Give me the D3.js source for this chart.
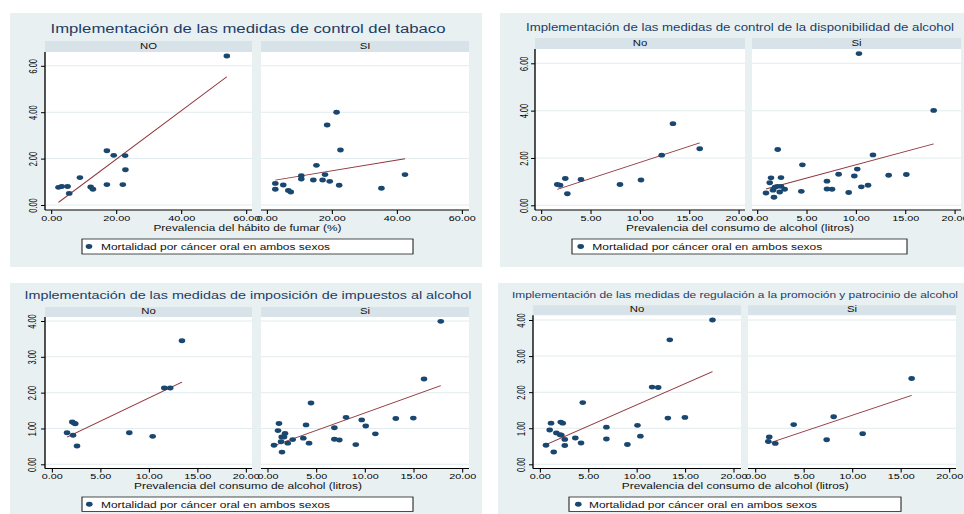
<!DOCTYPE html>
<html lang="es">
<head>
<meta charset="utf-8">
<title>Mortalidad por cáncer oral y medidas de control</title>
<script src="https://d3js.org/d3.v7.min.js"></script>
<style>
  body { margin: 0; background: #fff; }
  text { font-family: "Liberation Sans", Arial, Helvetica, sans-serif; }
</style>
</head>
<body>
<div id="chart"></div>
<script>

// ---------------------------//
//       DATA                 //
// ---------------------------//

const titles = [
  "Implementación de las medidas de control del tabaco",
  "Implementación de las medidas de control de la disponibilidad de alcohol",
  "Implementación de las medidas de imposición de impuestos al alcohol",
  "Implementación de las medidas de regulación a la promoción y patrocinio de alcohol"
];
const facetNames = [["NO", "SI"], ["No", "Si"], ["No", "Si"], ["No", "Si"]];
const xTitles = [
  "Prevalencia del hábito de fumar (%)",
  "Prevalencia del consumo de alcohol (litros)",
  "Prevalencia del consumo de alcohol (litros)",
  "Prevalencia del consumo de alcohol (litros)"
];
const legendLabel = "Mortalidad por cáncer oral en ambos sexos";

const xTicksTabaco = [0, 20, 40, 60];
const xTicksAlcohol = [0, 5, 10, 15, 20];
const yTicksSix = [0, 2, 4, 6];
const yTicksFour = [0, 1, 2, 3, 4];

// [prevalencia, mortalidad]
const tabacoNo = [[2.3,0.76],[3.3,0.80],[5.1,0.80],[5.6,0.50],[8.9,1.18],[12.2,0.78],[12.9,0.68],
  [17.2,2.34],[17.2,0.88],[19.3,2.14],[22.1,0.88],[22.8,2.13],[22.9,1.52],[54.1,6.42]];
const tabacoSi = [[2.65,0.93],[2.65,0.68],[5.1,0.86],[6.65,0.63],[7.4,0.56],[10.65,1.26],[10.65,1.12],
  [14.35,1.08],[15.3,1.71],[17.2,1.08],[17.95,1.31],[18.6,3.45],[19.4,1.02],[21.5,4.0],[22.3,0.85],
  [22.7,2.37],[35.3,0.72],[42.55,1.31]];

const dispNo = [[1.65,0.88],[1.93,0.85],[2.46,1.13],[2.67,0.49],[4.05,1.09],[8.0,0.88],[10.13,1.07],
  [12.23,2.12],[13.37,3.45],[16.08,2.39]];
const dispSi = [[10.33,6.41],[17.9,4.01],[2.1,2.36],[11.75,2.13],[4.6,1.71],[10.16,1.53],[8.27,1.31],
  [9.86,1.24],[13.34,1.27],[15.13,1.30],[7.09,1.02],[7.09,0.69],[7.6,0.68],[9.29,0.54],[10.57,0.78],
  [11.25,0.85],[4.49,0.59],[0.91,0.52],[1.29,0.95],[1.42,1.16],[1.62,0.64],[1.72,0.34],[1.82,0.76],
  [2.06,0.80],[2.3,0.56],[2.43,0.80],[2.43,1.17],[2.8,0.68]];

const impNo = [[1.58,0.88],[2.12,1.18],[2.3,1.15],[2.43,1.13],[2.2,0.81],[2.61,0.51],[8.0,0.88],
  [10.41,0.78],[11.61,2.13],[12.22,2.13],[13.43,3.45]];
const impSi = [[17.82,3.99],[16.1,2.38],[4.49,1.71],[8.09,1.31],[9.7,1.24],[10.11,1.07],[13.2,1.28],
  [15.0,1.29],[11.1,0.85],[6.89,1.02],[6.89,0.70],[7.4,0.68],[9.09,0.55],[3.98,1.10],[3.7,0.73],
  [4.29,0.59],[0.69,0.53],[1.2,1.14],[1.1,0.94],[1.41,0.63],[1.51,0.34],[1.48,0.76],[1.72,0.76],
  [1.82,0.86],[2.1,0.59],[2.61,0.69]];

const promNo = [[17.85,4.0],[13.44,3.45],[11.61,2.14],[12.24,2.13],[4.45,1.71],[13.24,1.28],[15.0,1.30],
  [10.1,1.08],[10.4,0.78],[9.06,0.55],[6.89,1.03],[6.89,0.70],[3.68,0.73],[4.27,0.59],[0.65,0.53],
  [1.17,1.14],[1.03,0.95],[1.45,0.34],[1.72,0.87],[2.1,0.82],[2.24,0.81],[2.17,1.17],[2.38,1.14],
  [2.59,0.69],[2.59,0.52]];
const promSi = [[16.15,2.38],[8.11,1.32],[3.99,1.10],[11.1,0.85],[7.39,0.68],[1.47,0.76],[1.37,0.63],
  [2.09,0.58]];


// ---------------------------//
//       LAYOUT               //
// ---------------------------//

// the picture is stretched sideways, so draw in narrow units and let the viewBox widen it
const SX = 1.35;
const u = px => px / SX;

const bgColor = "#e8f0f2", stripColor = "#d7e3e8", gridColor = "#e2ebee";
const navy = "#1a476f", fitColor = "#90353b", titleColor = "#1d3d66";
const fmt = d3.format(".2f");

const panels = [
  { title: titles[0], names: facetNames[0], data: [tabacoNo, tabacoSi], xTitle: xTitles[0],
    bg: [10, 13, 482, 267], titleX: 248, titleY: 33, titleW: 395, titleSize: 13.5,
    strip: [41, 52], axisY: 210, boxes: [[45, 252], [261, 469]], xr: [[51, 246], [266.7, 461.7]],
    xDomain: [0, 60], xTicks: xTicksTabaco, yMax: 6, yTicks: yTicksSix, yr: [205, 65.8], yLab: 37,
    xTitleX: 247.5, xTitleY: 231, xTitleW: 188, legend: [82, 239, 413, 254], legDot: 89, legText: 101, legW: 229 },
  { title: titles[1], names: facetNames[1], data: [dispNo, dispSi], xTitle: xTitles[1],
    bg: [500, 13, 966, 267], titleX: 740, titleY: 31, titleW: 428, titleSize: 10.2,
    strip: [38, 49], axisY: 210, boxes: [[535, 745], [752, 961]], xr: [[541, 738.4], [757, 954.4]],
    xDomain: [0, 20], xTicks: xTicksAlcohol, yMax: 6, yTicks: yTicksSix, yr: [205.3, 63.3], yLab: 528,
    xTitleX: 740, xTitleY: 231, xTitleW: 228, legend: [572, 239, 907, 254], legDot: 580.7, legText: 592.3, legW: 230 },
  { title: titles[2], names: facetNames[2], data: [impNo, impSi], xTitle: xTitles[2],
    bg: [10, 283, 482, 516], titleX: 248, titleY: 299.5, titleW: 447, titleSize: 11.3,
    strip: [307, 317], axisY: 468.5, boxes: [[45, 252], [261, 469]], xr: [[51.7, 245.7], [267.3, 462]],
    xDomain: [0, 20], xTicks: xTicksAlcohol, yMax: 4, yTicks: yTicksFour, yr: [464.3, 321], yLab: 36,
    xTitleX: 248, xTitleY: 489, xTitleW: 228, legend: [82, 497, 413, 511.5], legDot: 89.3, legText: 101, legW: 229 },
  { title: titles[3], names: facetNames[3], data: [promNo, promSi], xTitle: xTitles[3],
    bg: [498, 283, 966, 516], titleX: 735, titleY: 298, titleW: 446, titleSize: 9.4,
    strip: [305.3, 315.3], axisY: 468.5, boxes: [[533, 741], [748, 956]], xr: [[539.7, 733.3], [755, 949]],
    xDomain: [0, 20], xTicks: xTicksAlcohol, yMax: 4, yTicks: yTicksFour, yr: [464.3, 320], yLab: 525,
    xTitleX: 735.3, xTitleY: 489, xTitleW: 227, legend: [569, 497, 901, 511.5], legDot: 578.3, legText: 589, legW: 228 }
];

const svg = d3.select("#chart")
  .append("svg")
    .attr("width", 964)
    .attr("height", 514)
    .attr("viewBox", `0 0 ${964 / SX} 514`)
    .attr("preserveAspectRatio", "none");

// least squares line, like Stata's lfit
function linFit(pts) {
  const mx = d3.mean(pts, d => d[0]), my = d3.mean(pts, d => d[1]);
  const sxy = d3.sum(pts, d => (d[0] - mx) * (d[1] - my));
  const sxx = d3.sum(pts, d => (d[0] - mx) ** 2);
  const b = sxy / sxx, a = my - b * mx;
  const [x0, x1] = d3.extent(pts, d => d[0]);
  return [[x0, a + b * x0], [x1, a + b * x1]];
}

function drawPanel(p) {
  const g = svg.append("g");

  g.append("rect")
    .attr("x", u(p.bg[0])).attr("y", p.bg[1])
    .attr("width", u(p.bg[2] - p.bg[0])).attr("height", p.bg[3] - p.bg[1])
    .attr("fill", bgColor);

  g.append("text")
    .attr("x", u(p.titleX)).attr("y", p.titleY)
    .attr("text-anchor", "middle")
    .attr("font-size", p.titleSize)
    .attr("fill", titleColor)
    .attr("textLength", u(p.titleW)).attr("lengthAdjust", "spacingAndGlyphs")
    .text(p.title);

  const y = d3.scaleLinear().domain([0, p.yMax]).range(p.yr);

  p.boxes.forEach((box, i) => {
    const x = d3.scaleLinear().domain(p.xDomain).range(p.xr[i].map(u));
    const bx0 = u(box[0]), bx1 = u(box[1]);

    // strip
    g.append("rect")
      .attr("x", bx0).attr("y", p.strip[0])
      .attr("width", bx1 - bx0).attr("height", p.strip[1] - p.strip[0])
      .attr("fill", stripColor);
    g.append("text")
      .attr("x", (bx0 + bx1) / 2).attr("y", p.strip[1] - 3)
      .attr("text-anchor", "middle").attr("font-size", 8.4).attr("fill", "#111")
      .text(p.names[i]);

    // plot region
    g.append("rect")
      .attr("x", bx0).attr("y", p.strip[1])
      .attr("width", bx1 - bx0).attr("height", p.axisY - p.strip[1])
      .attr("fill", "#fff");

    g.selectAll(null)
      .data(p.yTicks)
      .join("line")
        .attr("x1", bx0).attr("x2", bx1)
        .attr("y1", d => y(d)).attr("y2", d => y(d))
        .attr("stroke", gridColor).attr("stroke-width", 1);

    // fitted line
    const fit = linFit(p.data[i]);
    g.append("line")
      .attr("x1", x(fit[0][0])).attr("y1", y(fit[0][1]))
      .attr("x2", x(fit[1][0])).attr("y2", y(fit[1][1]))
      .attr("stroke", fitColor).attr("stroke-width", 0.9);

    // dots
    g.append("g")
      .selectAll("circle")
      .data(p.data[i])
      .join("circle")
        .attr("cx", d => x(d[0]))
        .attr("cy", d => y(d[1]))
        .attr("r", 2.45)
        .attr("fill", navy);

    // x axis
    const xa = g.append("g")
      .attr("transform", `translate(0,${p.axisY})`)
      .call(d3.axisBottom(x).tickValues(p.xTicks).tickFormat(fmt)
        .tickSize(4).tickSizeOuter(0).tickPadding(1));
    xa.select(".domain").remove();
    xa.selectAll(".tick line").attr("stroke", "#000").attr("stroke-width", 0.8);
    xa.selectAll(".tick text")
      .attr("font-size", 8).attr("fill", "#000")
      .attr("font-family", "'Liberation Sans', Arial, sans-serif");
    g.append("line")
      .attr("x1", bx0).attr("x2", bx1)
      .attr("y1", p.axisY).attr("y2", p.axisY)
      .attr("stroke", "#000").attr("stroke-width", 1);

    // y axis only on the left facet
    if (i === 0) {
      const ya = g.append("g")
        .attr("transform", `translate(${bx0},0)`)
        .call(d3.axisLeft(y).tickValues(p.yTicks).tickFormat(fmt)
          .tickSize(u(4)).tickSizeOuter(0));
      ya.select(".domain").remove();
      ya.selectAll(".tick line").attr("stroke", "#000").attr("stroke-width", 1);
      ya.selectAll(".tick text")
        .attr("x", null).attr("dy", null)
        .attr("transform", `translate(${-u(box[0] - p.yLab)},0) rotate(-90)`)
        .attr("text-anchor", "middle")
        .attr("font-size", 7.4).attr("fill", "#000")
        .attr("font-family", "'Liberation Sans', Arial, sans-serif");
      g.append("line")
        .attr("x1", bx0).attr("x2", bx0)
        .attr("y1", p.strip[1]).attr("y2", p.axisY)
        .attr("stroke", "#000").attr("stroke-width", 1);
    }
  });

  // x axis title
  g.append("text")
    .attr("x", u(p.xTitleX)).attr("y", p.xTitleY)
    .attr("text-anchor", "middle").attr("font-size", 9).attr("fill", "#111")
    .attr("textLength", u(p.xTitleW)).attr("lengthAdjust", "spacingAndGlyphs")
    .text(p.xTitle);

  // legend
  const [l0, t0, l1, t1] = p.legend;
  g.append("rect")
    .attr("x", u(l0)).attr("y", t0)
    .attr("width", u(l1 - l0)).attr("height", t1 - t0)
    .attr("fill", "#fff").attr("stroke", "#222").attr("stroke-width", 0.8);
  g.append("circle")
    .attr("cx", u(p.legDot)).attr("cy", (t0 + t1) / 2)
    .attr("r", 2.45).attr("fill", navy);
  g.append("text")
    .attr("x", u(p.legText)).attr("y", (t0 + t1) / 2 + 3.3)
    .attr("font-size", 9).attr("fill", "#111")
    .attr("textLength", u(p.legW)).attr("lengthAdjust", "spacingAndGlyphs")
    .text(legendLabel);
}

panels.forEach(drawPanel);

</script>
</body>
</html>
